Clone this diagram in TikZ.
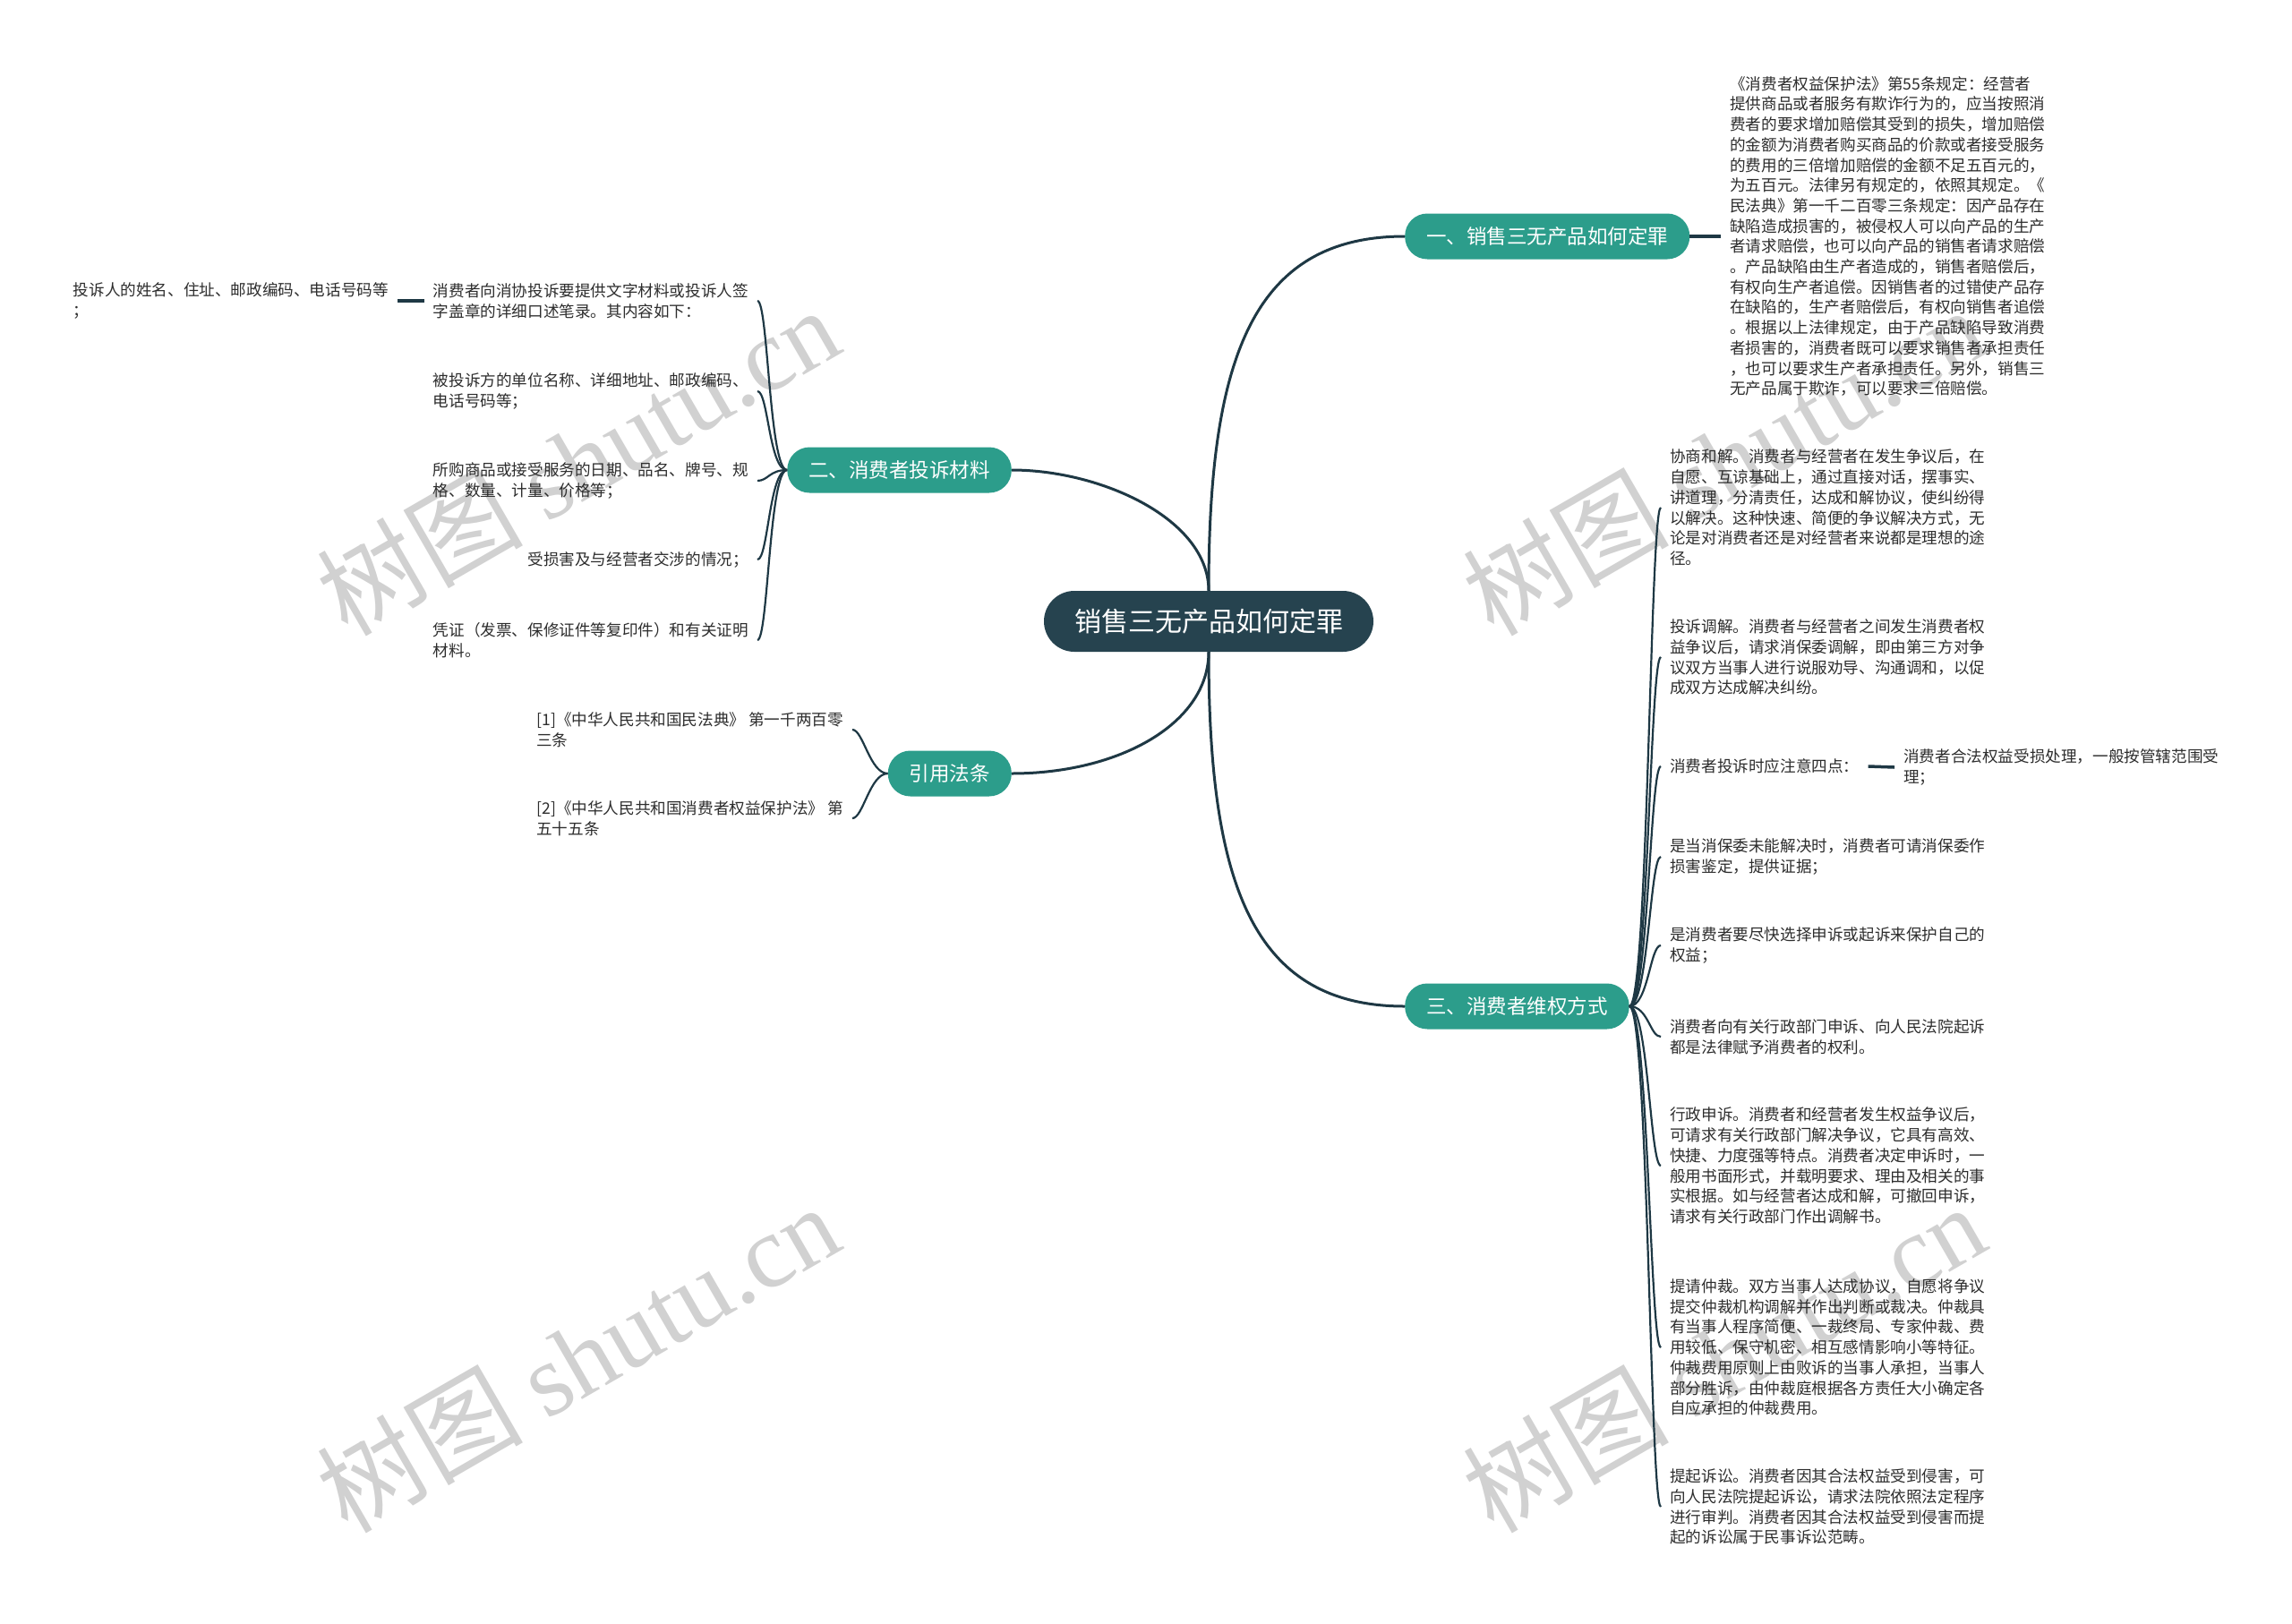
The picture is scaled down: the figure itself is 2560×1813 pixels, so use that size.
\documentclass[tikz,border=0pt]{standalone}
\usepackage{fontspec}
\setmainfont{Noto Sans CJK SC}
\newfontfamily\wmfont{Liberation Serif}
\usetikzlibrary{calc}
\definecolor{sotet}{RGB}{38,67,79}
\definecolor{zold}{RGB}{44,157,139}
\definecolor{vonalszin}{RGB}{30,56,68}
\definecolor{szoveg}{RGB}{45,45,45}
\tikzset{
  kozep/.style={rounded corners=34pt,fill=sotet,text=white,inner xsep=34pt,minimum height=68pt,font=\fontsize{30}{36}\selectfont},
  ag/.style={rounded corners=25pt,fill=zold,text=white,inner xsep=24pt,minimum height=51pt,font=\fontsize{22.5}{27}\selectfont},
  level/.style={inner xsep=10pt,inner ysep=4pt,align=left,text=szoveg,font=\fontsize{17.6}{22.7}\selectfont},
  fovonal/.style={draw=vonalszin,line width=3pt},
  vonal/.style={draw=vonalszin,line width=2.2pt},
  rovid/.style={draw=vonalszin,line width=3.5pt},
  vizjel/.style={text=black!18,rotate=30,font=\fontsize{115}{120}\selectfont},
}
\begin{document}
\begin{tikzpicture}[x=1pt,y=-1pt]
  \useasboundingbox[fill=white] (0,0) rectangle (2560,1813);
  % vizjelek
  \node[vizjel] (viz1) at (645,514) {树图 {\wmfont shutu.cn}};
  \node[vizjel] (viz2) at (645,1516) {树图 {\wmfont shutu.cn}};
  \node[vizjel] (viz3) at (1925,514) {树图 {\wmfont shutu.cn}};
  \node[vizjel] (viz4) at (1925,1516) {树图 {\wmfont shutu.cn}};
  % kozep es agak
  \node[kozep] (gyoker) at (1350,694) {销售三无产品如何定罪};
  \node[ag,anchor=west] (ag1) at (1569,264) {一、销售三无产品如何定罪};
  \node[ag,anchor=east] (ag2) at (1130,525) {二、消费者投诉材料};
  \node[ag,anchor=east] (ag3) at (1130,864) {引用法条};
  \node[ag,anchor=west] (ag4) at (1569,1124) {三、消费者维权方式};
  \draw[fovonal] (gyoker.north) .. controls +(0,-260) and +(-170,0) .. (ag1.west);
  \draw[fovonal] (gyoker.north) .. controls +(0,-80) and +(100,0) .. (ag2.east);
  \draw[fovonal] (gyoker.south) .. controls +(0,80) and +(120,0) .. (ag3.east);
  \draw[fovonal] (gyoker.south) .. controls +(0,260) and +(-170,0) .. (ag4.west);
  % egy
  \node[level,anchor=west] (jog) at (1922,264) {《消费者权益保护法》第55条规定：经营者\\提供商品或者服务有欺诈行为的，应当按照消\\费者的要求增加赔偿其受到的损失，增加赔偿\\的金额为消费者购买商品的价款或者接受服务\\的费用的三倍增加赔偿的金额不足五百元的，\\为五百元。法律另有规定的，依照其规定。《\\民法典》第一千二百零三条规定：因产品存在\\缺陷造成损害的，被侵权人可以向产品的生产\\者请求赔偿，也可以向产品的销售者请求赔偿\\。产品缺陷由生产者造成的，销售者赔偿后，\\有权向生产者追偿。因销售者的过错使产品存\\在缺陷的，生产者赔偿后，有权向销售者追偿\\。根据以上法律规定，由于产品缺陷导致消费\\者损害的，消费者既可以要求销售者承担责任\\，也可以要求生产者承担责任。另外，销售三\\无产品属于欺诈，可以要求三倍赔偿。};
  \draw[rovid] (ag1.east) -- (jog.west);
  % ketto
  \node[level,anchor=east] (b1) at (846,336) {消费者向消协投诉要提供文字材料或投诉人签\\字盖章的详细口述笔录。其内容如下：};
  \node[level,anchor=east] (b2) at (846,437) {被投诉方的单位名称、详细地址、邮政编码、\\电话号码等；};
  \node[level,anchor=east] (b3) at (846,537) {所购商品或接受服务的日期、品名、牌号、规\\格、数量、计量、价格等；};
  \node[level,anchor=east] (b4) at (846,625) {受损害及与经营者交涉的情况；};
  \node[level,anchor=east] (b5) at (846,715) {凭证（发票、保修证件等复印件）和有关证明\\材料。};
  \node[level,anchor=east] (b1k) at (444,336) {投诉人的姓名、住址、邮政编码、电话号码等\\；};
  \draw[vonal] (ag2.west) .. controls +(-20,0) and +(12,0) .. (b1.east);
  \draw[vonal] (ag2.west) .. controls +(-20,0) and +(12,0) .. (b2.east);
  \draw[vonal] (ag2.west) .. controls +(-20,0) and +(12,0) .. (b3.east);
  \draw[vonal] (ag2.west) .. controls +(-20,0) and +(12,0) .. (b4.east);
  \draw[vonal] (ag2.west) .. controls +(-20,0) and +(12,0) .. (b5.east);
  \draw[rovid] (b1.west) -- (b1k.east);
  % forrasok
  \node[level,anchor=east] (c1) at (952,815) {[1]《中华人民共和国民法典》 第一千两百零\\三条};
  \node[level,anchor=east] (c2) at (952,914) {[2]《中华人民共和国消费者权益保护法》 第\\五十五条};
  \draw[vonal] (ag3.west) .. controls +(-20,0) and +(12,0) .. (c1.east);
  \draw[vonal] (ag3.west) .. controls +(-20,0) and +(12,0) .. (c2.east);
  % harom
  \node[level,anchor=west] (d1) at (1855,567) {协商和解。消费者与经营者在发生争议后，在\\自愿、互谅基础上，通过直接对话，摆事实、\\讲道理，分清责任，达成和解协议，使纠纷得\\以解决。这种快速、简便的争议解决方式，无\\论是对消费者还是对经营者来说都是理想的途\\径。};
  \node[level,anchor=west] (d2) at (1855,734) {投诉调解。消费者与经营者之间发生消费者权\\益争议后，请求消保委调解，即由第三方对争\\议双方当事人进行说服劝导、沟通调和，以促\\成双方达成解决纠纷。};
  \node[level,anchor=west] (d3) at (1855,856) {消费者投诉时应注意四点：};
  \node[level,anchor=west] (d3k) at (2116,857) {消费者合法权益受损处理，一般按管辖范围受\\理；};
  \node[level,anchor=west] (d4) at (1855,957) {是当消保委未能解决时，消费者可请消保委作\\损害鉴定，提供证据；};
  \node[level,anchor=west] (d5) at (1855,1056) {是消费者要尽快选择申诉或起诉来保护自己的\\权益；};
  \node[level,anchor=west] (d6) at (1855,1158) {消费者向有关行政部门申诉、向人民法院起诉\\都是法律赋予消费者的权利。};
  \node[level,anchor=west] (d7) at (1855,1302) {行政申诉。消费者和经营者发生权益争议后，\\可请求有关行政部门解决争议，它具有高效、\\快捷、力度强等特点。消费者决定申诉时，一\\般用书面形式，并载明要求、理由及相关的事\\实根据。如与经营者达成和解，可撤回申诉，\\请求有关行政部门作出调解书。};
  \node[level,anchor=west] (d8) at (1855,1505) {提请仲裁。双方当事人达成协议，自愿将争议\\提交仲裁机构调解并作出判断或裁决。仲裁具\\有当事人程序简便、一裁终局、专家仲裁、费\\用较低、保守机密、相互感情影响小等特征。\\仲裁费用原则上由败诉的当事人承担，当事人\\部分胜诉，由仲裁庭根据各方责任大小确定各\\自应承担的仲裁费用。};
  \node[level,anchor=west] (d9) at (1855,1683) {提起诉讼。消费者因其合法权益受到侵害，可\\向人民法院提起诉讼，请求法院依照法定程序\\进行审判。消费者因其合法权益受到侵害而提\\起的诉讼属于民事诉讼范畴。};
  \draw[vonal] (ag4.east) .. controls +(21,0) and +(-12,0) .. (d1.west);
  \draw[vonal] (ag4.east) .. controls +(21,0) and +(-12,0) .. (d2.west);
  \draw[vonal] (ag4.east) .. controls +(21,0) and +(-12,0) .. (d3.west);
  \draw[vonal] (ag4.east) .. controls +(21,0) and +(-12,0) .. (d4.west);
  \draw[vonal] (ag4.east) .. controls +(21,0) and +(-12,0) .. (d5.west);
  \draw[vonal] (ag4.east) .. controls +(21,0) and +(-12,0) .. (d6.west);
  \draw[vonal] (ag4.east) .. controls +(21,0) and +(-12,0) .. (d7.west);
  \draw[vonal] (ag4.east) .. controls +(21,0) and +(-12,0) .. (d8.west);
  \draw[vonal] (ag4.east) .. controls +(21,0) and +(-12,0) .. (d9.west);
  \draw[rovid] (d3.east) -- (d3k.west);
\end{tikzpicture}
\end{document}
